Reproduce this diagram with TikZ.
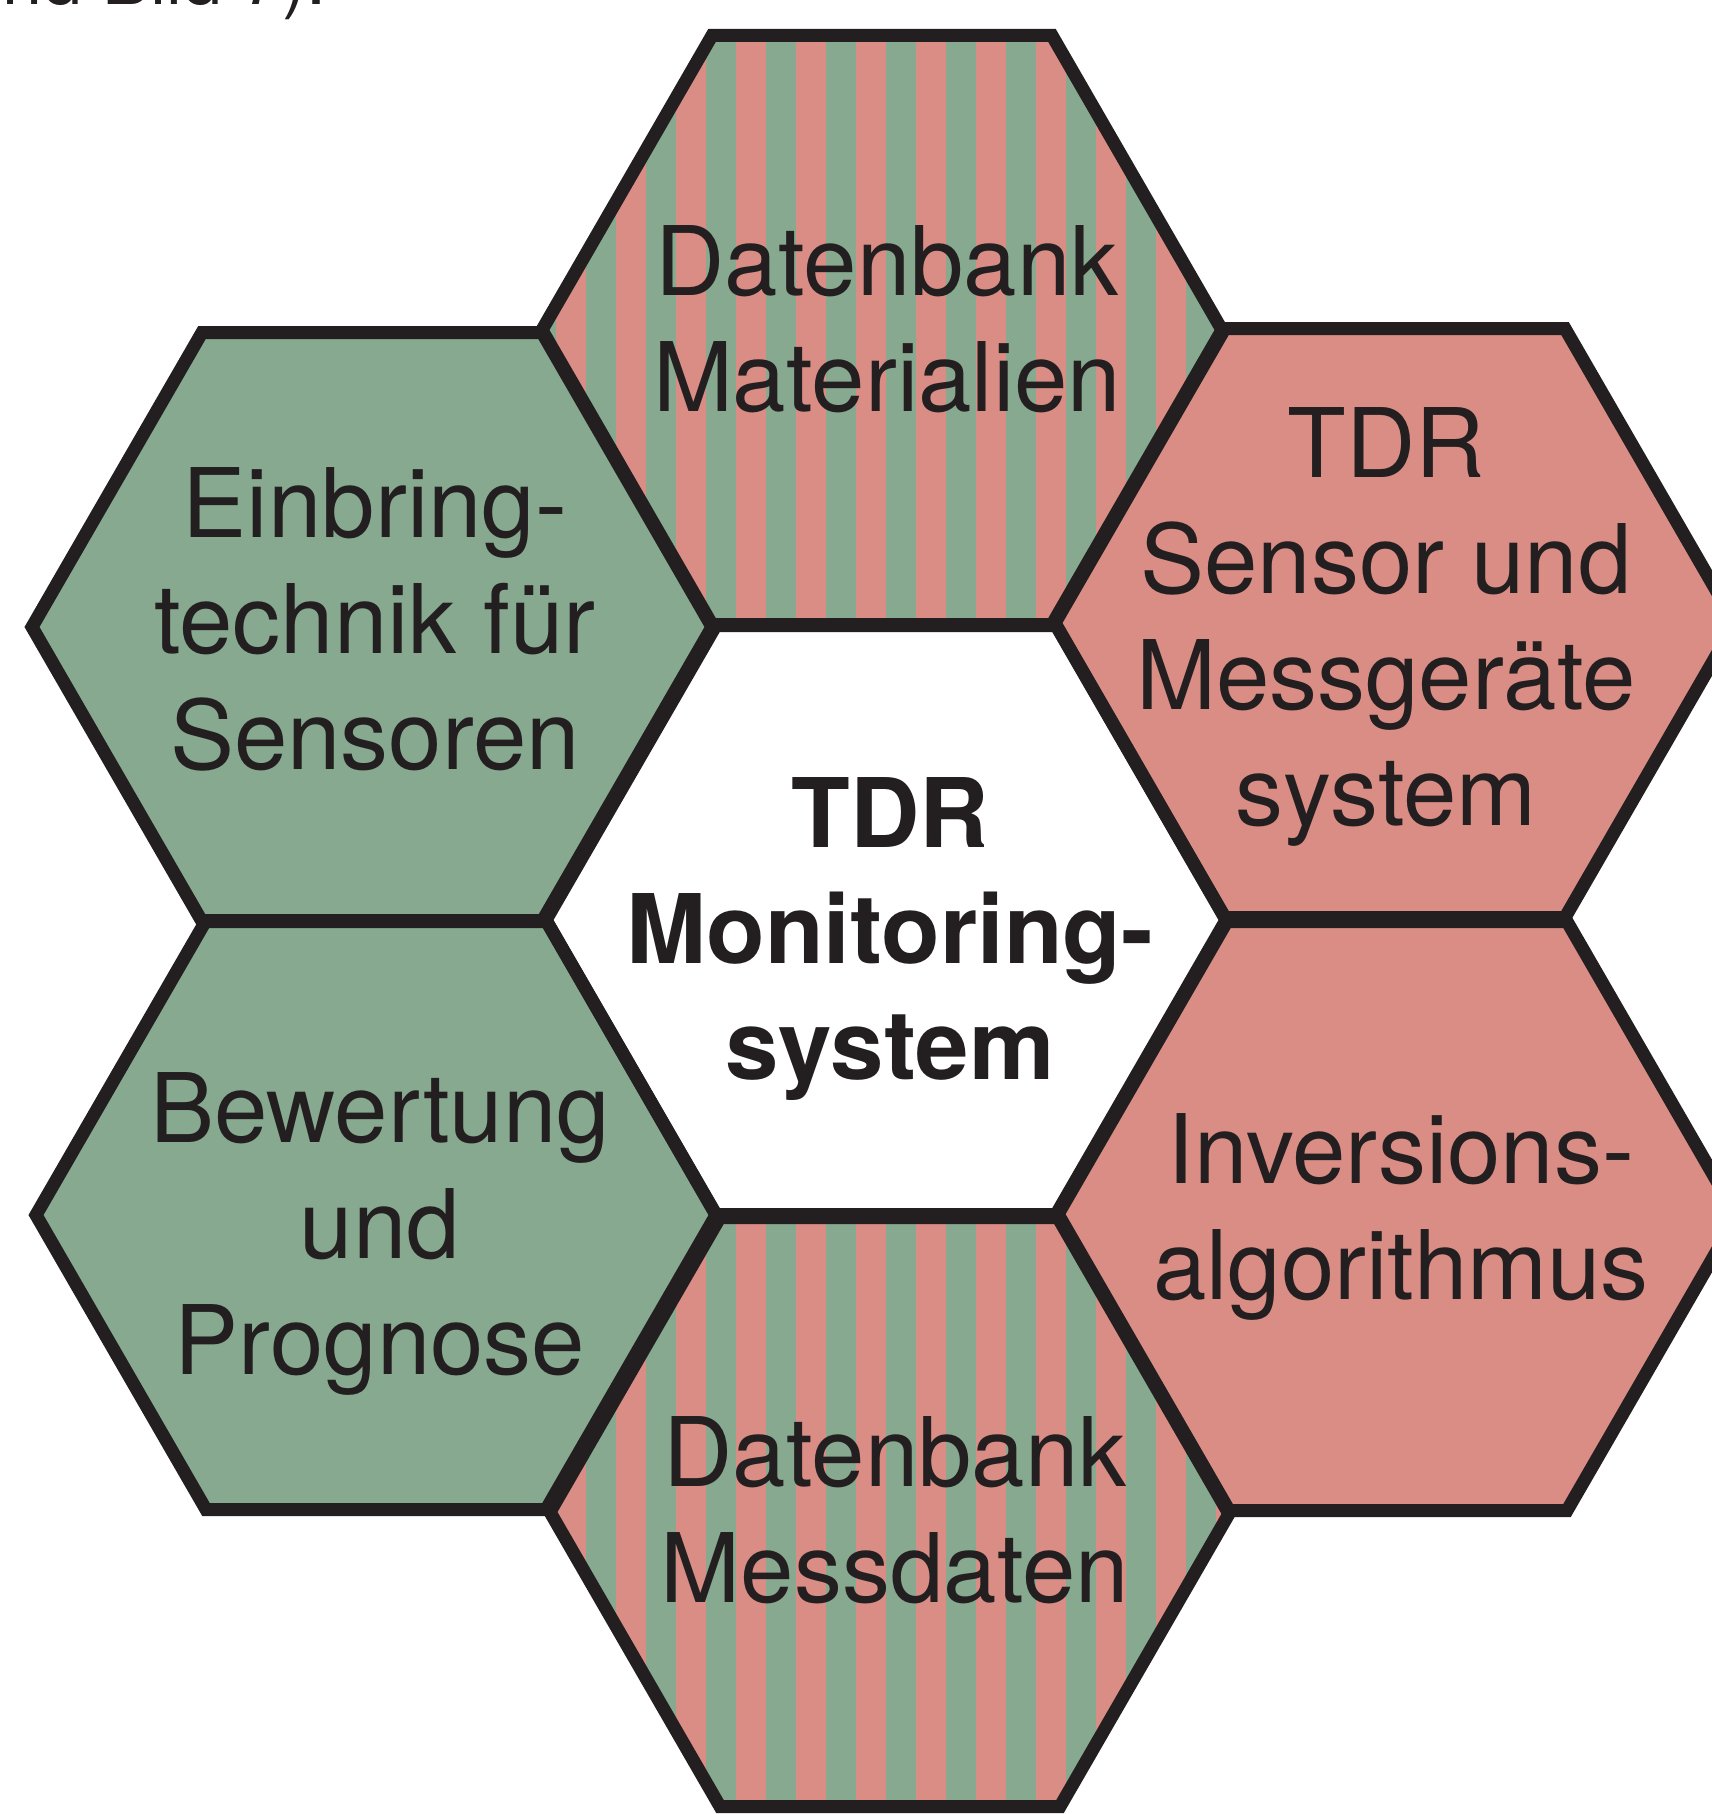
\documentclass[tikz,border=0pt]{standalone}
\usepackage{fontspec}
\setmainfont{TeX Gyre Heros}
\definecolor{hexred}{HTML}{D98D85}
\definecolor{hexgreen}{HTML}{86A98F}
\definecolor{ink}{HTML}{231F20}
\newcommand\hexat[1]{(#1) ++(-340,0) -- ++(170,-294.5) -- ++(340,0) -- ++(170,294.5) -- ++(-170,294.5) -- ++(-340,0) -- cycle}
\begin{document}
\begin{tikzpicture}[x=1pt,y=-1pt,
  hexline/.style={draw=ink, line width=13pt, line join=miter},
  lbl/.style={text=ink, font=\fontsize{96}{116}\selectfont, align=center, anchor=base, inner sep=0pt},
  boldlbl/.style={lbl, font=\fontsize{96}{116}\selectfont\bfseries}]
\useasboundingbox (0,0) rectangle (1712,1814);
% striped hexagons
\begin{scope}
  \clip \hexat{882,330};
  \fill[hexred] (500,0) rectangle (1260,700);
  \foreach \k in {0,...,12} \fill[hexgreen] ({466+60*\k},0) rectangle ++(30,700);
\end{scope}
\begin{scope}
  \clip \hexat{890,1512};
  \fill[hexred] (500,1150) rectangle (1260,1850);
  \foreach \k in {0,...,13} \fill[hexgreen] ({466+60*\k},1150) rectangle ++(30,700);
\end{scope}
% solid fills
\fill[hexgreen] \hexat{372,627};
\fill[hexgreen] \hexat{376,1215};
\fill[hexred] \hexat{1395,623};
\fill[hexred] \hexat{1397,1216};
\fill[white] \hexat{886,920};
% outlines
\path[hexline] \hexat{882,330};
\path[hexline] \hexat{890,1512};
\path[hexline] \hexat{372,627};
\path[hexline] \hexat{376,1215};
\path[hexline] \hexat{1395,623};
\path[hexline] \hexat{1397,1216};
\path[hexline] \hexat{886,920};
% labels (anchor = baseline of the last line)
\node[lbl] (dbmat) at (887,411) {Datenbank\\Materialien};
\node[lbl] (einb) at (375,769) {Einbring-\\technik für\\Sensoren};
\node[lbl] (sensor) at (1386,825) {TDR\\Sensor und\\Messgeräte\\system};
\node[boldlbl] (center) at (890,1079) {TDR\\Monitoring-\\system};
\node[lbl] (bew) at (380,1374) {Bewertung\\und\\Prognose};
\node[lbl] (inv) at (1401,1299) {Inversions-\\algorithmus};
\node[lbl] (dbmess) at (895,1602) {Datenbank\\Messdaten};
\node[anchor=base east, font=\fontsize{72}{86}\selectfont, text=ink, inner sep=0pt] (frag) at (327,5) {und Bild 7).};
\end{tikzpicture}
\end{document}
